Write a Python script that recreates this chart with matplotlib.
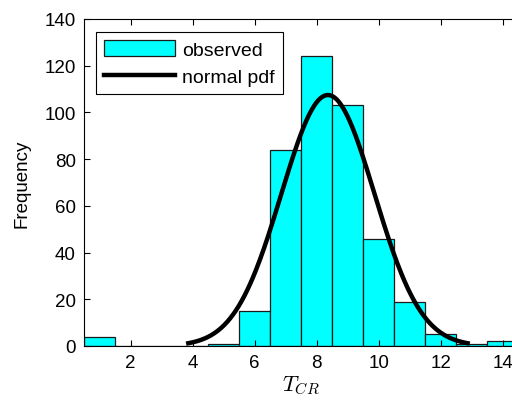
import numpy as np
import matplotlib.pyplot as plt

plt.rcParams['font.family'] = ['Liberation Sans', 'DejaVu Sans']
plt.rcParams['mathtext.fontset'] = 'cm'

# histogram of T_CR (bin centres and counts)
bin_centres = [1, 2, 3, 4, 5, 6, 7, 8, 9, 10, 11, 12, 13, 14]
counts = [4, 0, 0, 0, 1, 15, 84, 124, 103, 46, 19, 5, 1, 2]
bin_width = 1.0

# fitted normal distribution
mu = 8.36
sigma = 1.5

n_total = sum(counts)
x_pdf = np.linspace(mu - 3 * sigma, mu + 3 * sigma, 200)
y_pdf = n_total * bin_width / (sigma * np.sqrt(2 * np.pi)) * np.exp(-0.5 * ((x_pdf - mu) / sigma) ** 2)

fig = plt.figure(figsize=(5.12, 4.02), dpi=100)
ax = fig.add_axes([84 / 512, 55 / 402, 434.5 / 512, 327 / 402])

bars = ax.bar(bin_centres, counts, width=bin_width, color='#00FFFF', edgecolor='#1a1a1a',
              linewidth=0.9, label='observed')
line, = ax.plot(x_pdf, y_pdf, color='black', linewidth=3.2, label='normal pdf')

ax.set_xlim(0.5, 14.5)
ax.set_ylim(0, 140)
ax.set_xticks([2, 4, 6, 8, 10, 12, 14])
ax.set_yticks(np.arange(0, 141, 20))
ax.tick_params(direction='in', top=True, right=True, labelsize=13.5, length=4, width=0.8, pad=6)
for s in ax.spines.values():
    s.set_linewidth(0.8)

ax.set_xlabel('$T_{CR}$', fontsize=16, labelpad=2)
ax.set_ylabel('Frequency', fontsize=13.5, labelpad=10)

leg = ax.legend([bars, line], ['observed', 'normal pdf'], loc='upper left',
                bbox_to_anchor=(0.027, 0.96), fontsize=14, handlelength=3.7,
                handleheight=0.9, fancybox=False, framealpha=1, borderpad=0.4,
                labelspacing=0.45, handletextpad=0.35, borderaxespad=0)
leg.get_frame().set_edgecolor('black')
leg.get_frame().set_linewidth(0.8)

fig.savefig('out.png', dpi=100)
